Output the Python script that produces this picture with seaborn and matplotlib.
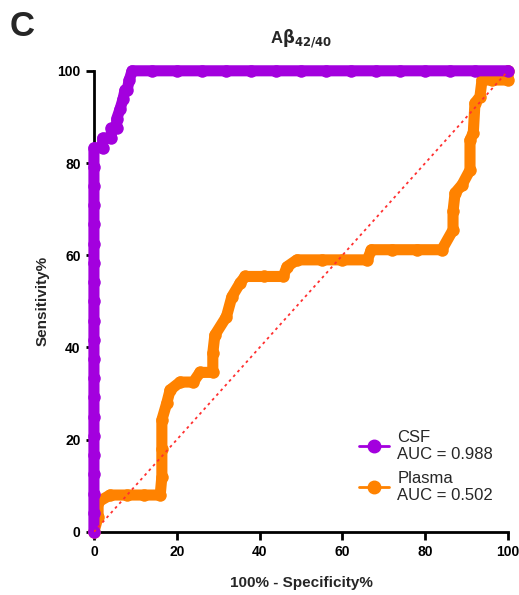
import numpy as np
import pandas as pd
import matplotlib
matplotlib.use("Agg")
import matplotlib.pyplot as plt
from matplotlib.lines import Line2D
import seaborn as sns

# ROC points (x = 100% - specificity, y = sensitivity)
csf_fpr = [0, 0, 0, 0, 0, 0, 0, 0, 0, 0, 0, 0, 0, 0, 0, 0, 0, 0, 0, 0, 0,
           2.1, 2.1, 4.2, 4.2, 5.5, 5.5, 6.3, 7.0, 7.5, 8.0, 8.5, 9.2,
           14, 20, 26, 32, 38, 44, 50, 56, 62, 68, 74, 80, 86, 92, 100]
csf_tpr = [0, 4.2, 8.3, 12.5, 16.7, 20.8, 25, 29.2, 33.3, 37.5, 41.7, 45.8,
           50, 54.2, 58.3, 62.5, 66.7, 70.8, 75, 79.2, 83.3,
           83.3, 85.4, 85.4, 87.5, 87.5, 89.6, 91.7, 93.8, 95.8, 95.8, 97.9, 100,
           100, 100, 100, 100, 100, 100, 100, 100, 100, 100, 100, 100, 100, 100, 100]

plasma_fpr = [0, 1, 1, 3.9, 8, 12, 16, 16.4, 16.4, 16.4, 17.6, 18.4, 20.8, 24,
              25.6, 28.7, 28.7, 29.2, 32, 33.3, 35.3, 36.5, 41, 45.7, 46.6, 49,
              55, 60, 66, 67, 72, 78, 84, 86.7, 86.7, 87.2, 88.9, 90.8, 90.8,
              91.6, 92, 93.2, 93.7, 96, 100, 100]
plasma_tpr = [0, 3.3, 6.5, 8, 8, 8, 8, 12, 18, 24.3, 28, 30.8, 32.5, 32.5,
              34.6, 34.6, 38.8, 42.7, 46.7, 51, 54, 55.4, 55.4, 55.4, 57.5, 59,
              59, 59, 59, 61.2, 61.2, 61.2, 61.2, 65.5, 69.5, 73.5, 75.3, 78.5, 85,
              86.6, 93, 94.4, 98, 98, 98, 100]

labels = ["CSF\nAUC = 0.988", "Plasma\nAUC = 0.502"]
purple = "#A300DE"
orange = "#FF8200"

sns.set_style("ticks")
plt.rcParams["font.family"] = ["Liberation Sans", "DejaVu Sans"]

fig = plt.figure(figsize=(5.19, 5.95), dpi=100)
ax = fig.add_axes([0.181, 0.106, 0.798, 0.775])

plasma = pd.DataFrame({"fpr": plasma_fpr, "tpr": plasma_tpr})
csf = pd.DataFrame({"fpr": csf_fpr, "tpr": csf_tpr})

sns.lineplot(data=plasma, x="fpr", y="tpr", sort=False, estimator=None,
             color=orange, lw=8, marker="o", markersize=9, markeredgewidth=0,
             solid_joinstyle="round", solid_capstyle="round",
             clip_on=False, zorder=3, ax=ax)
sns.lineplot(data=csf, x="fpr", y="tpr", sort=False, estimator=None,
             color=purple, lw=8, marker="o", markersize=9, markeredgewidth=0,
             solid_joinstyle="round", solid_capstyle="round",
             clip_on=False, zorder=4, ax=ax)
ax.plot([0, 100], [0, 100], color="#FF3030", ls=(0, (1.5, 2)), lw=1.3, zorder=5)

ax.set_xlim(0, 100)
ax.set_ylim(0, 100)
ax.set_xticks([0, 20, 40, 60, 80, 100])
ax.set_yticks([0, 20, 40, 60, 80, 100])
for s in ["top", "right"]:
    ax.spines[s].set_visible(False)
for s in ["left", "bottom"]:
    ax.spines[s].set_linewidth(2)
    ax.spines[s].set_color("black")
ax.tick_params(width=2, length=6, labelsize=10, colors="black")
for t in ax.get_xticklabels() + ax.get_yticklabels():
    t.set_fontweight("bold")

ax.set_xlabel("100% - Specificity%", fontsize=11, fontweight="bold", labelpad=12)
ax.set_ylabel("Sensitivity%", fontsize=11, fontweight="bold", labelpad=6)
ax.set_title(r"A$\mathbf{\beta}_{\mathbf{42/40}}$", fontsize=12, fontweight="bold", pad=20)
fig.text(0.018, 0.955, "C", fontsize=25, fontweight="bold", va="center")

handles = [Line2D([], [], color=purple, lw=2, marker="o", markersize=9),
           Line2D([], [], color=orange, lw=2, marker="o", markersize=9)]
ax.legend(handles, labels, loc="lower right", bbox_to_anchor=(1.0, 0.03),
          frameon=False, fontsize=12, handlelength=1.8, handletextpad=0.5,
          labelspacing=0.5)

fig.savefig("out.png", dpi=100)
